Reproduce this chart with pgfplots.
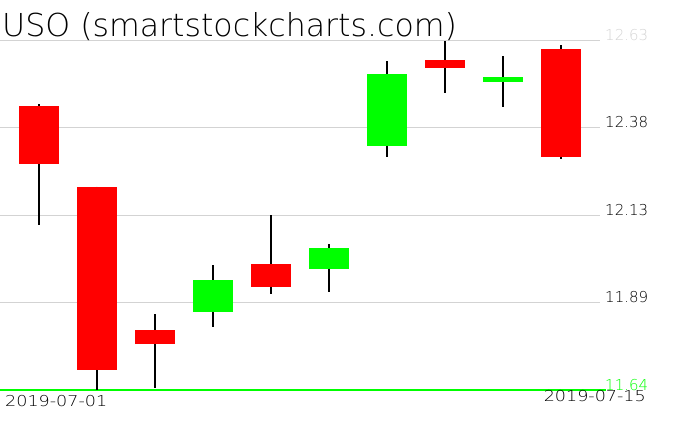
\documentclass[border=0pt]{standalone}
\usepackage{pgfplots}
\pgfplotsset{compat=1.18}
\usepackage{pgfplotstable}
\usepackage{graphicx}
\usepackage{fontspec}
\setmainfont{DejaVu Sans ExtraLight}

\definecolor{upc}{HTML}{00FF00}
\definecolor{downc}{HTML}{FF0000}
\definecolor{gridc}{HTML}{D3D3D3}

% daily candles, x = trading day index
\pgfplotstableread{
x open high low close
0 12.445 12.450 12.107 12.281
1 12.215 12.216 11.640 11.697
2 11.810 11.855 11.646 11.770
3 11.861 11.994 11.818 11.951
4 11.997 12.135 11.912 11.932
5 11.983 12.053 11.917 12.042
6 12.332 12.571 12.301 12.536
7 12.574 12.628 12.482 12.553
8 12.512 12.586 12.442 12.526
9 12.605 12.617 12.293 12.301
}\candles

\pgfplotstableread{
x open close
3 11.861 11.951
5 11.983 12.042
6 12.332 12.536
8 12.512 12.526
}\upcandles

\pgfplotstableread{
x open close
0 12.445 12.281
1 12.215 11.697
2 11.810 11.770
4 11.997 11.932
7 12.574 12.553
9 12.605 12.301
}\downcandles

\begin{document}
\begin{tikzpicture}[x=1pt, y=1pt]
\useasboundingbox (0,-41) rectangle (676,390);
\begin{axis}[
    at={(0,0)}, anchor=south west,
    scale only axis, width=600pt, height=349.7pt,
    xmin=-0.672, xmax=9.672,
    ymin=11.64, ymax=12.63,
    clip=false,
    axis line style={draw=none},
    xtick=\empty,
    ytick={11.64,11.8875,12.135,12.3825,12.63},
    yticklabels={\textcolor{upc}{11.64},11.89,12.13,12.38,\textcolor{gridc}{12.63}},
    yticklabel pos=right,
    major tick length=0pt,
    yticklabel style={anchor=base west, inner sep=0pt, xshift=5pt,
        font=\fontsize{15}{18}\selectfont},
    ymajorgrids,
    grid style={gridc, line width=1pt},
    candle/.style={only marks, mark=*, mark size=0pt,
        mark options={draw=none, fill=none},
        error bars/y explicit, error bars/error mark=none},
]
% bottom line
\addplot[upc, line width=1.2pt] coordinates {(-0.672,11.64) (9.78,11.64)};

% wicks
\addplot[candle, error bars/y dir=both,
    error bars/error bar style={black, line width=1.2pt}]
    table[x=x, y=open,
      y error plus expr=\thisrow{high}-\thisrow{open},
      y error minus expr=\thisrow{open}-\thisrow{low}] {\candles};

% bodies
\addplot[candle, error bars/y dir=plus,
    error bars/error bar style={upc, line width=40pt, line cap=butt}]
    table[x=x, y=open, y error plus expr=\thisrow{close}-\thisrow{open}] {\upcandles};
\addplot[candle, error bars/y dir=plus,
    error bars/error bar style={downc, line width=40pt, line cap=butt}]
    table[x=x, y=close, y error plus expr=\thisrow{open}-\thisrow{close}] {\downcandles};
\end{axis}

\node[anchor=base west, inner sep=0pt, font=\fontsize{31.6}{36}\selectfont]
    at (2,353) {USO (smartstockcharts.com)};
\node[anchor=base west, inner sep=0pt, font=\fontsize{15}{18}\selectfont]
    at (5,-16) {\scalebox{1.17}[1]{2019-07-01}};
\node[anchor=base east, inner sep=0pt, font=\fontsize{15}{18}\selectfont]
    at (646,-11) {\scalebox{1.17}[1]{2019-07-15}};
\end{tikzpicture}
\end{document}
